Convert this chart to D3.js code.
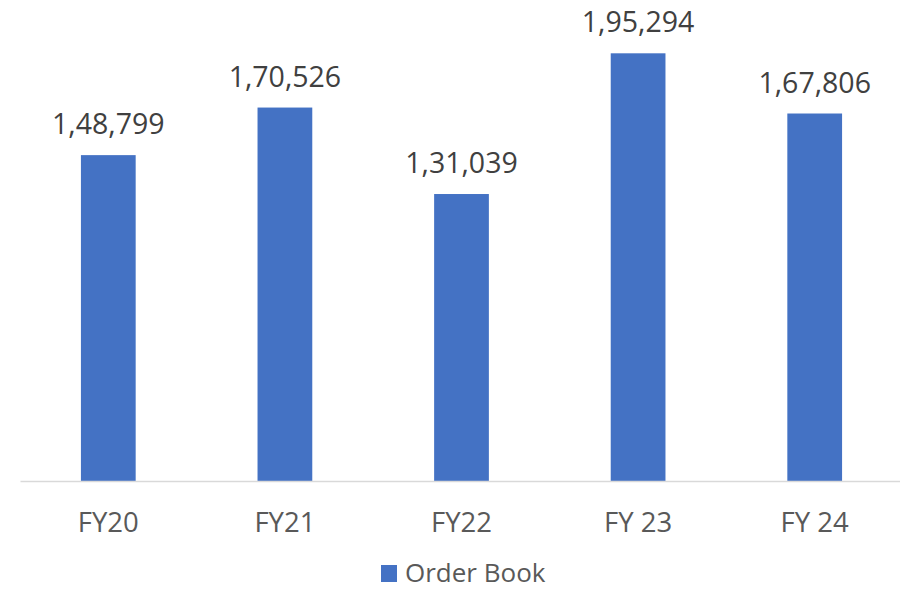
<!DOCTYPE html>
<html>
<head>
<meta charset="utf-8">
<script src="https://cdn.jsdelivr.net/npm/d3@7"></script>
<style>
  html, body { margin: 0; padding: 0; background: #ffffff; }
  svg { display: block; }
</style>
</head>
<body>
<svg id="chart" width="900" height="589"></svg>
<script>
// Order book by fiscal year
const categories = ["FY20", "FY21", "FY22", "FY 23", "FY 24"];
const orderBook = [148799, 170526, 131039, 195294, 167806];
const seriesName = "Order Book";

const width = 900, height = 589;
const svg = d3.select("#chart");
const font = "'Open Sans', 'Noto Sans', sans-serif";

const x = d3.scaleBand()
  .domain(categories)
  .range([20, 903])
  .paddingInner(0.69)
  .paddingOuter(0.345);

const y = d3.scaleLinear()
  .domain([0, 200000])
  .range([481, 43]);

// Indian digit grouping, e.g. 1,48,799
function indianFormat(v) {
  const s = String(Math.round(v));
  if (s.length <= 3) return s;
  const last3 = s.slice(-3);
  let rest = s.slice(0, -3);
  const parts = [];
  while (rest.length > 2) {
    parts.unshift(rest.slice(-2));
    rest = rest.slice(0, -2);
  }
  if (rest.length) parts.unshift(rest);
  return parts.join(",") + "," + last3;
}

const data = categories.map((c, i) => ({ cat: c, value: orderBook[i] }));

// Bars
svg.append("g")
  .selectAll("rect")
  .data(data)
  .join("rect")
  .attr("x", d => x(d.cat))
  .attr("y", d => y(d.value))
  .attr("width", x.bandwidth())
  .attr("height", d => y(0) - y(d.value))
  .attr("fill", "#4472C4");

// Category axis
const xAxis = svg.append("g")
  .attr("transform", `translate(0,${y(0)})`)
  .call(d3.axisBottom(x).tickSize(0).tickPadding(31));
xAxis.select(".domain").attr("stroke", "#d9d9d9").attr("stroke-width", 1.5);
xAxis.selectAll("text")
  .attr("font-family", font)
  .attr("font-size", 27.5)
  .attr("fill", "#595959");

// Value labels
svg.append("g")
  .selectAll("text")
  .data(data)
  .join("text")
  .attr("x", d => x(d.cat) + x.bandwidth() / 2)
  .attr("y", d => y(d.value) - 21)
  .attr("text-anchor", "middle")
  .attr("font-family", font)
  .attr("font-size", 28.5)
  .attr("fill", "#404040")
  .text(d => indianFormat(d.value));

// Legend
const legend = svg.append("g").attr("transform", "translate(381,565)");
legend.append("rect")
  .attr("width", 16).attr("height", 17)
  .attr("fill", "#4472C4");
legend.append("text")
  .attr("x", 24)
  .attr("y", 16.5)
  .attr("font-family", font)
  .attr("font-size", 26)
  .attr("fill", "#595959")
  .text(seriesName);
</script>
</body>
</html>
